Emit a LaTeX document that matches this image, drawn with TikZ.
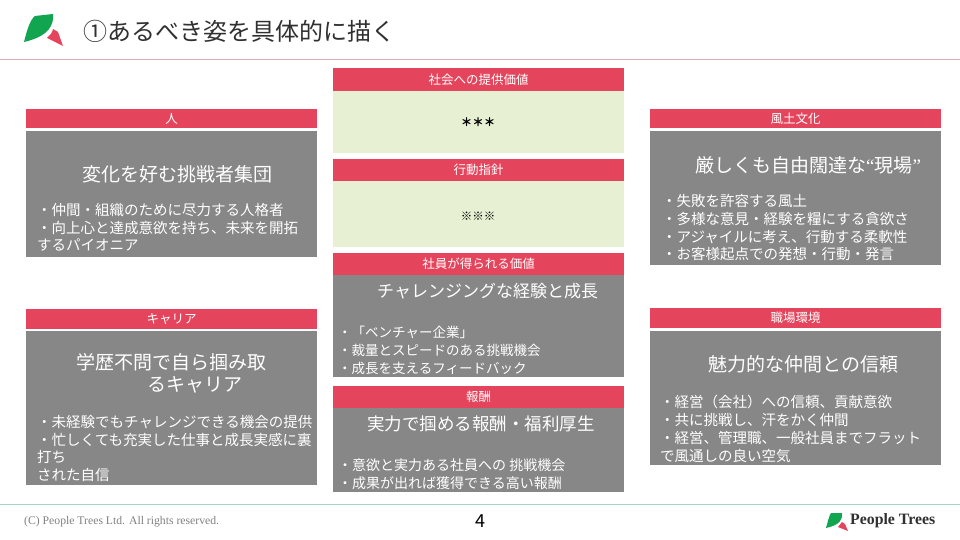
\documentclass[tikz,border=0pt]{standalone}
\usepackage{fontspec}
\setmainfont{Noto Sans CJK JP}
\newfontfamily\latinfont{Liberation Serif}
\usetikzlibrary{positioning}
\definecolor{headred}{HTML}{E5455C}
\definecolor{bodygray}{HTML}{878787}
\definecolor{paleleaf}{HTML}{E7F0D2}
\definecolor{leafgreen}{HTML}{12A550}
\definecolor{rulepink}{HTML}{E3A9B3}
\definecolor{rulegreen}{HTML}{A3D5C4}
\definecolor{titleink}{HTML}{303030}
\tikzset{
    head/.style={fill=headred, text=white, font=\fontsize{12.5}{14}\selectfont, inner sep=0pt, anchor=north west, minimum height=#1},
    head/.default=0.5cm,
    bigline/.style={text=white, font=\fontsize{19}{22}\selectfont, inner sep=0pt, anchor=west},
    midline/.style={text=white, font=\fontsize{17.5}{20}\selectfont, inner sep=0pt, anchor=west},
    smallline/.style={text=white, font=\fontsize{14.5}{17.8}\selectfont, inner sep=0pt, anchor=north west, align=left},
    midlist/.style={text=white, font=\fontsize{13.5}{18}\selectfont, inner sep=0pt, anchor=north west, align=left},
    markline/.style={font=\bfseries\fontsize{11.5}{13}\selectfont, inner sep=0pt},
}
\begin{document}
\begin{tikzpicture}[x=1pt,y=-1pt]
    \useasboundingbox (0,0) rectangle (960,540);

    % title
    \fill[leafgreen] (24,42) .. controls (27,30) and (30,20) .. (35,16) -- (53,14) .. controls (54,24) and (50,36) .. (24,42) -- cycle;
    \fill[headred] (53,29) -- (58,32) -- (63,46) -- (47,38) .. controls (50,36) and (52,33) .. (53,29) -- cycle;
    \node[text=titleink, font=\fontsize{24}{26}\selectfont, inner sep=0pt, anchor=west] (title) at (83,31) {①あるべき姿を具体的に描く};
    \draw[rulepink, line width=1pt] (0,60) -- (960,60);

    % centre column
    \fill[paleleaf] (333,91) rectangle (624,153);
    \fill[paleleaf] (333,181) rectangle (624,247);
    \fill[bodygray] (333,275) rectangle (624,377);
    \fill[bodygray] (333,408) rectangle (624,492);
    \node[head=23pt, minimum width=291pt] (social) at (333,68) {社会への提供価値};
    \node[head=22pt, minimum width=291pt] (action) at (333,159) {行動指針};
    \node[head=22pt, minimum width=291pt] (staff) at (333,253) {社員が得られる価値};
    \node[head=22pt, minimum width=291pt] (reward) at (333,386) {報酬};
    \node[markline] (socialmark) at (478,122) {＊＊＊};
    \node[markline] (actionmark) at (478,216) {※※※};
    \node[midline, font=\fontsize{17}{20}\selectfont] (staffbig) at (377,291) {チャレンジングな経験と成長};
    \node[midlist] (stafflist) at (338,326) {・「ベンチャー企業」\\・裁量とスピードのある挑戦機会\\・成長を支えるフィードバック};
    \node[midline] (rewardbig) at (367,424) {実力で掴める報酬・福利厚生};
    \node[midlist, font=\fontsize{14}{18}\selectfont] (rewardlist) at (338,459) {・意欲と実力ある社員への 挑戦機会\\・成果が出れば獲得できる高い報酬};

    % left column
    \fill[bodygray] (26,131) rectangle (317,257);
    \fill[bodygray] (26,331) rectangle (317,485);
    \node[head=19pt, minimum width=291pt] (person) at (26,109) {人};
    \node[head=20pt, minimum width=291pt] (career) at (26,309) {キャリア};
    \node[bigline] (personbig) at (82,174) {変化を好む挑戦者集団};
    \node[smallline] (personlist) at (37,203) {・仲間・組織のために尽力する人格者\\・向上心と達成意欲を持ち、未来を開拓\\するパイオニア};
    \node[bigline] (careerbig) at (76,362) {学歴不問で自ら掴み取};
    \node[bigline] (careerbig2) at (147,385) {るキャリア};
    \node[smallline] (careerlist) at (37,415) {・未経験でもチャレンジできる機会の提供\\・忙しくても充実した仕事と成長実感に裏\\打ち\\された自信};

    % right column
    \fill[bodygray] (650,131) rectangle (941,265);
    \fill[bodygray] (650,331) rectangle (941,465);
    \node[head=19pt, minimum width=291pt] (culture) at (650,109) {風土文化};
    \node[head=20pt, minimum width=291pt] (workplace) at (650,308) {職場環境};
    \node[bigline] (culturebig) at (695,165) {厳しくも自由闊達な{\latinfont “}現場{\latinfont ”}};
    \node[smallline] (culturelist) at (662,194) {・失敗を許容する風土\\・多様な意見・経験を糧にする貪欲さ\\・アジャイルに考え、行動する柔軟性\\・お客様起点での発想・行動・発言};
    \node[bigline] (workplacebig) at (708,364) {魅力的な仲間との信頼};
    \node[smallline] (workplacelist) at (660,395) {・経営（会社）への信頼、貢献意欲\\・共に挑戦し、汗をかく仲間\\・経営、管理職、一般社員までフラット\\で風通しの良い空気};

    % footer
    \draw[rulegreen, line width=1pt] (0,504) -- (960,504);
    \node[text=gray, font=\latinfont\fontsize{11.7}{14}\selectfont, inner sep=0pt, anchor=west] (copyright) at (24,522) {(C) People Trees Ltd. All rights reserved.};
    \node[font=\fontsize{18}{20}\selectfont, inner sep=0pt] (pageno) at (480,521) {4};
    \fill[leafgreen] (826,528) .. controls (828,521) and (829,516) .. (831,513) -- (842,513) .. controls (843,519) and (840,525) .. (826,528) -- cycle;
    \fill[headred] (842,522) -- (845,524) -- (848,531) -- (838,527) -- cycle;
    \node[font=\latinfont\bfseries\fontsize{15.8}{18}\selectfont, text=titleink, inner sep=0pt, anchor=west] (brand) at (850,521) {People Trees};
\end{tikzpicture}
\end{document}
